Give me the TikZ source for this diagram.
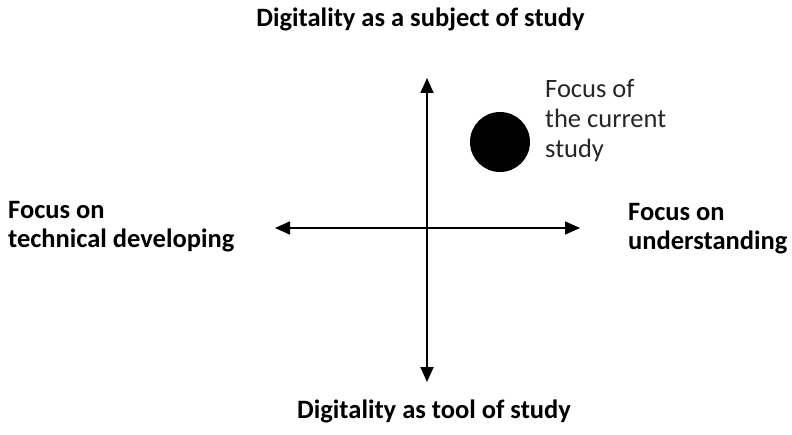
\documentclass[tikz,border=0pt]{standalone}
\usepackage{fontspec}
\setmainfont{Carlito}
\usetikzlibrary{arrows.meta}
\begin{document}
\begin{tikzpicture}[x=1pt,y=1pt,
  axis/.style={line width=1.8pt,{Triangle[length=15pt,width=13pt]}-{Triangle[length=15pt,width=13pt]}},
  lbl/.style={font=\fontsize{26.5}{29}\selectfont\bfseries,inner sep=0pt,align=left},
  note/.style={font=\fontsize{26.5}{30}\selectfont,text=black!85,inner sep=0pt,align=left}]
\useasboundingbox (0,0) rectangle (792,434);
% axis end points
\coordinate (top) at (427,356);
\coordinate (bottom) at (427,52);
\coordinate (left) at (275,206);
\coordinate (right) at (580,206);
\draw[axis] (bottom) -- (top);
\draw[axis] (left) -- (right);
% marker for the study
\node[circle,fill=black,minimum size=60pt,inner sep=0pt] (dot) at (500,292) {};
\node[note,anchor=base west] (cur) at (545,276) {Focus of\\the current\\study};
% axis labels
\node[lbl,anchor=base] (ttl) at (420.5,407) {Digitality as a subject of study};
\node[lbl,anchor=base] (btl) at (434,16) {Digitality as tool of study};
\node[lbl,anchor=base west] (lft) at (8,186) {Focus on\\technical developing};
\node[lbl,anchor=base west] (rgt) at (628,184) {Focus on\\understanding};
\end{tikzpicture}
\end{document}
